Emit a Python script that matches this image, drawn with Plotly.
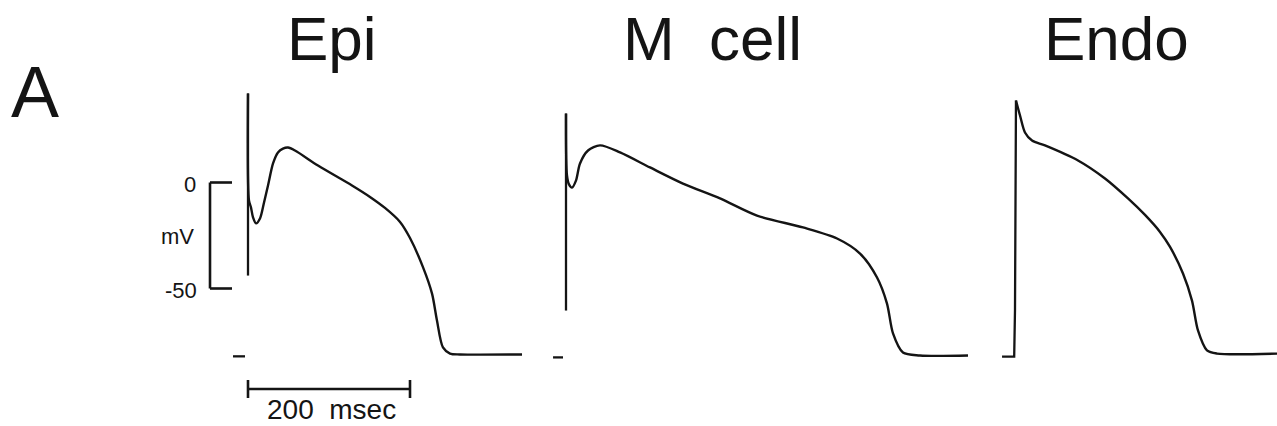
import plotly.graph_objects as go

W, H = 1277, 426
PX_PER_MS = 0.81      # 200 ms scale bar = 162 px
PX_PER_MV = 2.12      # 50 mV scale bar = 106 px
Y0_PX = 182.5         # pixel row of 0 mV

# ---- data (time in ms from stimulus, membrane potential in mV) ----
titles = ["Epi", "M\u00a0 cell", "Endo"]

# stimulus artifacts (vertical spikes)
epi_stim_t, epi_stim_v = [0, 0], [-43.9, 42.0]
mcell_stim_t, mcell_stim_v = [0, 0], [-60.4, 32.5]

epi_t = [0, 1.2, 3.7, 6.2, 9.9, 14.8, 19.8, 24.7, 30.9, 37.0, 43.2, 49.4, 58.0,
         86.4, 128.4, 150.6, 169.1, 187.7, 200.0, 216.0, 227.2, 233.3, 240.7, 249.4, 261.7, 338.3]
epi_v = [42.0, -8.5, -11.8, -16.5, -19.3, -17.0, -9.4, -1.4, 9.0, 14.2, 16.0, 16.5, 15.1,
         8.0, -1.4, -6.8, -12.0, -18.6, -26.2, -39.9, -52.4, -65.1, -77.8, -80.7, -81.1, -81.1]

mcell_t = [0, 1.2, 3.7, 7.4, 12.3, 17.3, 27.2, 42.0, 66.7, 103.7, 144.4, 190.1,
           235.8, 292.6, 334.6, 363.0, 384.0, 396.3, 403.7, 416.0, 437.0, 496.3]
mcell_v = [32.5, 3.3, -0.9, -2.4, 0.9, 9.0, 15.1, 17.5, 14.2, 7.1, -0.5, -7.5,
           -15.6, -21.2, -26.4, -33.5, -44.8, -57.1, -71.2, -80.2, -81.6, -81.6]

endo_up_t, endo_up_v = [-16.0, -1.0, 0.0, 1.2], [-82.1, -82.1, -60.0, 38.7]
endo_t = [1.2, 6.2, 12.3, 21.0, 37.0, 77.8, 111.1, 139.5, 160.5,
          179.0, 191.4, 207.4, 218.5, 225.9, 237.0, 249.4, 323.5]
endo_v = [38.7, 31.6, 23.6, 19.8, 17.5, 10.4, 1.9, -7.5, -15.3,
          -23.3, -30.4, -42.9, -55.7, -69.8, -79.2, -80.7, -80.7]

# short baseline marks drawn before the stimulus
epi_dash_t, epi_dash_v = [-18.5, -3.7], [-82.0, -82.0]
mcell_dash_t, mcell_dash_v = [-16.0, -3.7], [-82.5, -82.5]

scale_mv = [0, -50]
scale_ms = [0, 200]
scale_mv_labels = ["0", "mV", "-50"]
scale_ms_label = "200\u00a0 msec"

# stimulus pixel columns of each panel
stim_px = [248, 566, 1015]
title_px = [332, 712, 1116]

INK = "#141414"

def xr(p0):
    return [-p0 / PX_PER_MS, (W - p0) / PX_PER_MS]

y_range = [-(H - Y0_PX) / PX_PER_MV, Y0_PX / PX_PER_MV]

def mv_at(py):
    return (Y0_PX - py) / PX_PER_MV

def ms_at(px, p0=stim_px[0]):
    return (px - p0) / PX_PER_MS

fig = go.Figure()
lin = dict(color=INK, width=2.3)
spl = dict(color=INK, width=2.4, shape="spline", smoothing=0.8)

def add(x, y, ax, ln):
    fig.add_trace(go.Scatter(x=x, y=y, mode="lines", line=ln, xaxis=ax, hoverinfo="skip"))

add(epi_stim_t, epi_stim_v, "x", lin)
add(epi_t, epi_v, "x", spl)
add(epi_dash_t, epi_dash_v, "x", lin)
add(mcell_stim_t, mcell_stim_v, "x2", lin)
add(mcell_t, mcell_v, "x2", spl)
add(mcell_dash_t, mcell_dash_v, "x2", lin)
add(endo_up_t, endo_up_v, "x3", lin)
add(endo_t, endo_v, "x3", spl)

ax_common = dict(visible=False, fixedrange=True)
fig.update_layout(
    width=W, height=H, autosize=False,
    margin=dict(l=0, r=0, t=0, b=0, pad=0),
    paper_bgcolor="white", plot_bgcolor="white",
    showlegend=False,
    xaxis=dict(range=xr(stim_px[0]), domain=[0, 1], **ax_common),
    xaxis2=dict(range=xr(stim_px[1]), domain=[0, 1], overlaying="x", **ax_common),
    xaxis3=dict(range=xr(stim_px[2]), domain=[0, 1], overlaying="x", **ax_common),
    yaxis=dict(range=y_range, domain=[0, 1], **ax_common),
)

# ---- scale bars ----
bar = dict(color=INK, width=2.6)
x_vbar = ms_at(210)
x_vtick = ms_at(232)
shapes = [
    dict(type="line", xref="x", yref="y", x0=x_vbar, x1=x_vbar, y0=scale_mv[0], y1=scale_mv[1], line=bar),
    dict(type="line", xref="x", yref="y", x0=x_vbar, x1=x_vtick, y0=scale_mv[0], y1=scale_mv[0], line=bar),
    dict(type="line", xref="x", yref="y", x0=x_vbar, x1=x_vtick, y0=scale_mv[1], y1=scale_mv[1], line=bar),
]
y_tbar = mv_at(389)
shapes += [
    dict(type="line", xref="x", yref="y", x0=scale_ms[0], x1=scale_ms[1], y0=y_tbar, y1=y_tbar, line=bar),
    dict(type="line", xref="x", yref="y", x0=scale_ms[0], x1=scale_ms[0], y0=mv_at(380), y1=mv_at(398), line=bar),
    dict(type="line", xref="x", yref="y", x0=scale_ms[1], x1=scale_ms[1], y0=mv_at(380), y1=mv_at(398), line=bar),
]
fig.update_layout(shapes=shapes)

FONT = "Liberation Sans, Arial, sans-serif"

def px_ann(text, px, py, size, xanchor="center", yanchor="middle"):
    return dict(text=text, xref="paper", yref="paper", x=px / W, y=1 - py / H,
                xanchor=xanchor, yanchor=yanchor, showarrow=False,
                font=dict(family=FONT, size=size, color=INK))

anns = []
for t, px in zip(titles, title_px):
    anns.append(px_ann(t, px, 39, 62))
anns.append(px_ann("A", 35, 92, 72))
anns.append(px_ann(scale_mv_labels[0], 198, 185, 22, xanchor="right"))
anns.append(px_ann(scale_mv_labels[1], 196, 236, 22, xanchor="right"))
anns.append(px_ann(scale_mv_labels[2], 199, 290, 22, xanchor="right"))
anns.append(px_ann(scale_ms_label, 331, 409, 28))
fig.update_layout(annotations=anns)

fig.write_html("out.html")
